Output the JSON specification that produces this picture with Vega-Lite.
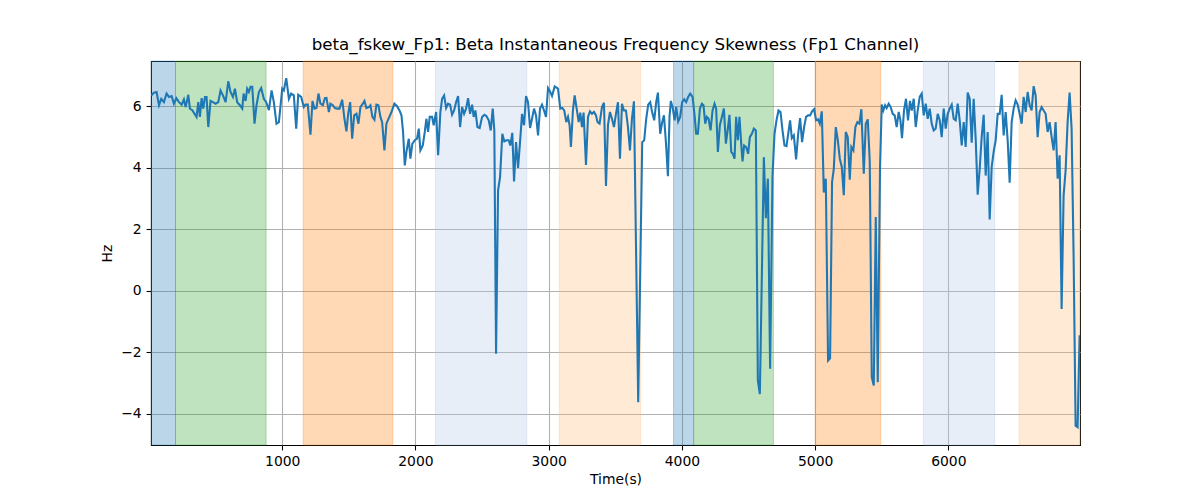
{
  "$schema": "https://vega.github.io/schema/vega-lite/v6.json",
  "width": 929,
  "height": 384,
  "autosize": "none",
  "padding": {"left": 151, "top": 61, "right": 120, "bottom": 55},
  "config": {
    "font": "DejaVu Sans",
    "view": {"stroke": "#000000", "strokeWidth": 1.07},
    "axis": {
      "domain": false,
      "grid": true,
      "gridColor": "#b0b0b0",
      "gridWidth": 1.07,
      "tickColor": "#000000",
      "tickSize": 4.9,
      "tickWidth": 1.07,
      "labelPadding": 4.9,
      "labelFont": "DejaVu Sans",
      "labelFontSize": 13.9,
      "labelColor": "#000000",
      "titleFont": "DejaVu Sans",
      "titleFontSize": 13.9,
      "titleFontWeight": "normal",
      "titleColor": "#000000"
    }
  },
  "title": {
    "text": "beta_fskew_Fp1: Beta Instantaneous Frequency Skewness (Fp1 Channel)",
    "font": "DejaVu Sans",
    "fontSize": 16.7,
    "fontWeight": "normal",
    "color": "#000000",
    "anchor": "middle",
    "offset": 7
  },
  "datasets": {
    "spans": [
      {"start": 17, "end": 199, "kind": "k1"},
      {"start": 199, "end": 879, "kind": "k2"},
      {"start": 1157, "end": 1830, "kind": "k3"},
      {"start": 2150, "end": 2836, "kind": "k4"},
      {"start": 3079, "end": 3690, "kind": "k5"},
      {"start": 3937, "end": 4088, "kind": "k1"},
      {"start": 4088, "end": 4687, "kind": "k2"},
      {"start": 5000, "end": 5492, "kind": "k3"},
      {"start": 5812, "end": 6348, "kind": "k4"},
      {"start": 6530, "end": 6988, "kind": "k5"}
    ],
    "series": [
      {"t": 17, "v": 6.36}, {"t": 37, "v": 6.45}, {"t": 57, "v": 6.47}, {"t": 75, "v": 6.04}, {"t": 92, "v": 6.25},
      {"t": 112, "v": 6.14}, {"t": 132, "v": 6.42}, {"t": 150, "v": 6.31}, {"t": 170, "v": 6.34}, {"t": 187, "v": 6.09},
      {"t": 205, "v": 6.27}, {"t": 225, "v": 6.14}, {"t": 245, "v": 6.06}, {"t": 262, "v": 6.23}, {"t": 275, "v": 5.98},
      {"t": 295, "v": 6.38}, {"t": 307, "v": 5.93}, {"t": 325, "v": 5.88}, {"t": 342, "v": 5.76}, {"t": 357, "v": 5.66},
      {"t": 370, "v": 6.14}, {"t": 382, "v": 5.66}, {"t": 395, "v": 6.27}, {"t": 407, "v": 5.93}, {"t": 420, "v": 6.31},
      {"t": 432, "v": 6.31}, {"t": 445, "v": 5.33}, {"t": 462, "v": 6.18}, {"t": 480, "v": 6.14}, {"t": 500, "v": 6.09},
      {"t": 520, "v": 6.14}, {"t": 537, "v": 6.52}, {"t": 555, "v": 6.36}, {"t": 575, "v": 6.14}, {"t": 595, "v": 6.82},
      {"t": 612, "v": 6.47}, {"t": 630, "v": 6.31}, {"t": 645, "v": 6.58}, {"t": 662, "v": 6.14}, {"t": 682, "v": 6.04},
      {"t": 700, "v": 5.93}, {"t": 710, "v": 6.42}, {"t": 725, "v": 6.18}, {"t": 737, "v": 6.58}, {"t": 750, "v": 6.47},
      {"t": 762, "v": 6.64}, {"t": 775, "v": 6.64}, {"t": 792, "v": 5.44}, {"t": 807, "v": 6.04}, {"t": 825, "v": 6.47},
      {"t": 842, "v": 6.6}, {"t": 862, "v": 6.25}, {"t": 880, "v": 6.14}, {"t": 900, "v": 5.88}, {"t": 920, "v": 6.52},
      {"t": 937, "v": 6.14}, {"t": 957, "v": 5.44}, {"t": 975, "v": 5.49}, {"t": 1000, "v": 6.58}, {"t": 1012, "v": 6.52},
      {"t": 1030, "v": 6.92}, {"t": 1050, "v": 6.25}, {"t": 1067, "v": 6.42}, {"t": 1087, "v": 6.36}, {"t": 1105, "v": 5.28},
      {"t": 1120, "v": 6.38}, {"t": 1142, "v": 6.31}, {"t": 1162, "v": 5.98}, {"t": 1175, "v": 6.06}, {"t": 1192, "v": 6.06},
      {"t": 1212, "v": 5.08}, {"t": 1227, "v": 6.18}, {"t": 1242, "v": 5.93}, {"t": 1257, "v": 5.95}, {"t": 1272, "v": 6.42},
      {"t": 1287, "v": 6.09}, {"t": 1305, "v": 6.04}, {"t": 1320, "v": 6.27}, {"t": 1332, "v": 6.28}, {"t": 1350, "v": 5.82},
      {"t": 1362, "v": 6.09}, {"t": 1380, "v": 6.04}, {"t": 1395, "v": 5.95}, {"t": 1412, "v": 5.93}, {"t": 1430, "v": 5.93},
      {"t": 1450, "v": 6.22}, {"t": 1467, "v": 5.6}, {"t": 1482, "v": 5.19}, {"t": 1495, "v": 5.76}, {"t": 1510, "v": 6.14},
      {"t": 1525, "v": 4.95}, {"t": 1540, "v": 5.71}, {"t": 1557, "v": 5.76}, {"t": 1572, "v": 5.44}, {"t": 1587, "v": 5.98},
      {"t": 1605, "v": 6.09}, {"t": 1617, "v": 6.18}, {"t": 1632, "v": 5.95}, {"t": 1650, "v": 5.98}, {"t": 1662, "v": 6.04},
      {"t": 1677, "v": 5.66}, {"t": 1692, "v": 5.57}, {"t": 1707, "v": 6.06}, {"t": 1722, "v": 6.04}, {"t": 1737, "v": 5.66},
      {"t": 1750, "v": 5.49}, {"t": 1767, "v": 4.57}, {"t": 1782, "v": 5.44}, {"t": 1800, "v": 5.62}, {"t": 1820, "v": 5.82},
      {"t": 1842, "v": 6.09}, {"t": 1862, "v": 6.01}, {"t": 1880, "v": 5.87}, {"t": 1895, "v": 5.71}, {"t": 1907, "v": 5.17},
      {"t": 1920, "v": 4.08}, {"t": 1932, "v": 4.52}, {"t": 1950, "v": 4.95}, {"t": 1962, "v": 4.3}, {"t": 1977, "v": 4.79},
      {"t": 1995, "v": 4.9}, {"t": 2012, "v": 4.95}, {"t": 2025, "v": 5.28}, {"t": 2037, "v": 4.57}, {"t": 2055, "v": 4.73},
      {"t": 2070, "v": 5.17}, {"t": 2082, "v": 5.6}, {"t": 2095, "v": 5.17}, {"t": 2107, "v": 5.66}, {"t": 2125, "v": 5.66},
      {"t": 2137, "v": 5.39}, {"t": 2155, "v": 5.82}, {"t": 2170, "v": 4.41}, {"t": 2187, "v": 5.82}, {"t": 2200, "v": 6.25},
      {"t": 2215, "v": 6.36}, {"t": 2230, "v": 5.95}, {"t": 2245, "v": 6.09}, {"t": 2260, "v": 6.06}, {"t": 2275, "v": 5.73},
      {"t": 2290, "v": 5.87}, {"t": 2305, "v": 6.14}, {"t": 2320, "v": 6.34}, {"t": 2335, "v": 5.33}, {"t": 2350, "v": 5.98},
      {"t": 2365, "v": 5.76}, {"t": 2380, "v": 5.93}, {"t": 2395, "v": 6.27}, {"t": 2410, "v": 5.76}, {"t": 2425, "v": 6.06},
      {"t": 2437, "v": 5.66}, {"t": 2450, "v": 5.87}, {"t": 2465, "v": 5.33}, {"t": 2482, "v": 5.3}, {"t": 2500, "v": 5.66},
      {"t": 2517, "v": 5.73}, {"t": 2532, "v": 5.69}, {"t": 2550, "v": 5.55}, {"t": 2565, "v": 5.22}, {"t": 2580, "v": 5.93},
      {"t": 2592, "v": 5.22}, {"t": 2605, "v": -2.05}, {"t": 2620, "v": 3.26}, {"t": 2635, "v": 3.7}, {"t": 2652, "v": 5.11},
      {"t": 2667, "v": 4.86}, {"t": 2682, "v": 4.9}, {"t": 2700, "v": 4.9}, {"t": 2712, "v": 4.73}, {"t": 2727, "v": 5.14},
      {"t": 2740, "v": 3.56}, {"t": 2755, "v": 4.84}, {"t": 2770, "v": 4.0}, {"t": 2785, "v": 4.84}, {"t": 2800, "v": 5.76},
      {"t": 2815, "v": 5.39}, {"t": 2830, "v": 6.34}, {"t": 2845, "v": 6.14}, {"t": 2860, "v": 5.3}, {"t": 2875, "v": 5.6},
      {"t": 2890, "v": 5.93}, {"t": 2905, "v": 5.71}, {"t": 2920, "v": 5.06}, {"t": 2935, "v": 5.93}, {"t": 2950, "v": 6.06},
      {"t": 2965, "v": 5.87}, {"t": 2980, "v": 5.66}, {"t": 2995, "v": 6.6}, {"t": 3010, "v": 6.49}, {"t": 3025, "v": 6.34},
      {"t": 3045, "v": 6.65}, {"t": 3070, "v": 6.58}, {"t": 3087, "v": 5.93}, {"t": 3102, "v": 5.95}, {"t": 3117, "v": 5.87},
      {"t": 3132, "v": 5.49}, {"t": 3145, "v": 5.66}, {"t": 3157, "v": 5.39}, {"t": 3167, "v": 4.68}, {"t": 3182, "v": 5.87},
      {"t": 3195, "v": 6.36}, {"t": 3210, "v": 5.93}, {"t": 3225, "v": 5.49}, {"t": 3237, "v": 5.8}, {"t": 3250, "v": 5.33},
      {"t": 3262, "v": 5.8}, {"t": 3280, "v": 4.1}, {"t": 3295, "v": 5.66}, {"t": 3310, "v": 5.84}, {"t": 3325, "v": 5.76},
      {"t": 3340, "v": 5.82}, {"t": 3355, "v": 5.71}, {"t": 3367, "v": 5.49}, {"t": 3382, "v": 5.44}, {"t": 3400, "v": 5.98},
      {"t": 3415, "v": 6.12}, {"t": 3430, "v": 3.41}, {"t": 3445, "v": 5.39}, {"t": 3460, "v": 5.82}, {"t": 3475, "v": 5.6},
      {"t": 3490, "v": 5.33}, {"t": 3505, "v": 5.76}, {"t": 3520, "v": 6.14}, {"t": 3535, "v": 4.3}, {"t": 3550, "v": 6.09},
      {"t": 3565, "v": 5.87}, {"t": 3580, "v": 5.87}, {"t": 3595, "v": 5.33}, {"t": 3610, "v": 4.57}, {"t": 3625, "v": 5.6},
      {"t": 3640, "v": 6.17}, {"t": 3672, "v": -3.63}, {"t": 3702, "v": 4.84}, {"t": 3717, "v": 4.9}, {"t": 3732, "v": 5.6},
      {"t": 3747, "v": 6.06}, {"t": 3762, "v": 6.14}, {"t": 3777, "v": 5.8}, {"t": 3792, "v": 5.55}, {"t": 3807, "v": 6.14},
      {"t": 3820, "v": 6.45}, {"t": 3837, "v": 5.11}, {"t": 3852, "v": 5.49}, {"t": 3865, "v": 5.71}, {"t": 3880, "v": 4.84},
      {"t": 3895, "v": 3.73}, {"t": 3907, "v": 5.66}, {"t": 3917, "v": 6.18}, {"t": 3932, "v": 5.93}, {"t": 3945, "v": 5.55},
      {"t": 3957, "v": 5.98}, {"t": 3972, "v": 5.51}, {"t": 3987, "v": 5.66}, {"t": 4002, "v": 6.14}, {"t": 4017, "v": 6.23},
      {"t": 4032, "v": 6.14}, {"t": 4047, "v": 6.31}, {"t": 4062, "v": 6.42}, {"t": 4080, "v": 6.31}, {"t": 4095, "v": 5.71},
      {"t": 4107, "v": 5.11}, {"t": 4120, "v": 5.11}, {"t": 4135, "v": 5.93}, {"t": 4150, "v": 6.09}, {"t": 4162, "v": 6.04},
      {"t": 4175, "v": 5.44}, {"t": 4187, "v": 5.66}, {"t": 4200, "v": 5.6}, {"t": 4215, "v": 5.22}, {"t": 4230, "v": 5.87},
      {"t": 4245, "v": 6.09}, {"t": 4257, "v": 5.93}, {"t": 4270, "v": 4.52}, {"t": 4285, "v": 5.39}, {"t": 4300, "v": 5.66},
      {"t": 4315, "v": 5.93}, {"t": 4330, "v": 4.79}, {"t": 4345, "v": 5.28}, {"t": 4357, "v": 5.73}, {"t": 4370, "v": 4.52},
      {"t": 4382, "v": 4.46}, {"t": 4395, "v": 4.3}, {"t": 4407, "v": 5.66}, {"t": 4420, "v": 4.9}, {"t": 4432, "v": 5.66},
      {"t": 4445, "v": 4.79}, {"t": 4455, "v": 4.21}, {"t": 4467, "v": 4.73}, {"t": 4482, "v": 4.68}, {"t": 4497, "v": 4.46},
      {"t": 4510, "v": 5.0}, {"t": 4525, "v": 5.11}, {"t": 4540, "v": 5.28}, {"t": 4555, "v": 5.22}, {"t": 4570, "v": -2.92},
      {"t": 4585, "v": -3.36}, {"t": 4615, "v": 4.35}, {"t": 4630, "v": 2.36}, {"t": 4645, "v": 3.65}, {"t": 4662, "v": -2.54},
      {"t": 4680, "v": 3.75}, {"t": 4695, "v": 5.11}, {"t": 4710, "v": 5.55}, {"t": 4725, "v": 5.87}, {"t": 4740, "v": 5.82},
      {"t": 4755, "v": 5.22}, {"t": 4770, "v": 4.73}, {"t": 4785, "v": 4.71}, {"t": 4800, "v": 5.17}, {"t": 4812, "v": 5.55},
      {"t": 4825, "v": 4.97}, {"t": 4840, "v": 5.06}, {"t": 4857, "v": 4.28}, {"t": 4872, "v": 5.08}, {"t": 4887, "v": 5.62},
      {"t": 4902, "v": 4.84}, {"t": 4917, "v": 5.33}, {"t": 4932, "v": 5.66}, {"t": 4947, "v": 5.71}, {"t": 4962, "v": 5.71},
      {"t": 4977, "v": 5.84}, {"t": 4992, "v": 5.91}, {"t": 5007, "v": 5.55}, {"t": 5022, "v": 5.58}, {"t": 5035, "v": 5.44},
      {"t": 5050, "v": 5.84}, {"t": 5065, "v": 3.2}, {"t": 5080, "v": 3.65}, {"t": 5097, "v": -2.27}, {"t": 5112, "v": -2.2},
      {"t": 5127, "v": 3.54}, {"t": 5140, "v": 3.97}, {"t": 5155, "v": 5.33}, {"t": 5170, "v": 4.9}, {"t": 5185, "v": 4.3},
      {"t": 5200, "v": 4.03}, {"t": 5215, "v": 3.11}, {"t": 5230, "v": 5.17}, {"t": 5245, "v": 5.0}, {"t": 5260, "v": 3.62},
      {"t": 5272, "v": 4.68}, {"t": 5287, "v": 4.57}, {"t": 5302, "v": 5.33}, {"t": 5317, "v": 5.49}, {"t": 5332, "v": 5.44},
      {"t": 5347, "v": 5.91}, {"t": 5365, "v": 3.81}, {"t": 5380, "v": 5.44}, {"t": 5395, "v": 5.58}, {"t": 5410, "v": 4.19},
      {"t": 5425, "v": -2.81}, {"t": 5440, "v": -3.08}, {"t": 5455, "v": 2.4}, {"t": 5470, "v": -2.98}, {"t": 5487, "v": 4.03},
      {"t": 5500, "v": 6.06}, {"t": 5512, "v": 5.87}, {"t": 5525, "v": 6.04}, {"t": 5537, "v": 5.95}, {"t": 5552, "v": 6.09},
      {"t": 5567, "v": 5.98}, {"t": 5582, "v": 5.76}, {"t": 5597, "v": 5.71}, {"t": 5612, "v": 5.33}, {"t": 5627, "v": 5.82},
      {"t": 5640, "v": 5.55}, {"t": 5652, "v": 4.97}, {"t": 5667, "v": 5.87}, {"t": 5682, "v": 6.25}, {"t": 5697, "v": 5.55},
      {"t": 5712, "v": 6.18}, {"t": 5725, "v": 5.87}, {"t": 5740, "v": 6.25}, {"t": 5755, "v": 5.33}, {"t": 5770, "v": 5.87},
      {"t": 5785, "v": 6.31}, {"t": 5800, "v": 6.42}, {"t": 5815, "v": 5.71}, {"t": 5830, "v": 6.09}, {"t": 5845, "v": 5.6},
      {"t": 5860, "v": 5.93}, {"t": 5875, "v": 5.44}, {"t": 5890, "v": 5.22}, {"t": 5905, "v": 5.28}, {"t": 5920, "v": 5.76},
      {"t": 5935, "v": 5.55}, {"t": 5950, "v": 5.0}, {"t": 5965, "v": 5.93}, {"t": 5980, "v": 5.28}, {"t": 5995, "v": 5.76},
      {"t": 6010, "v": 5.93}, {"t": 6025, "v": 6.06}, {"t": 6040, "v": 5.6}, {"t": 6055, "v": 5.55}, {"t": 6070, "v": 6.09},
      {"t": 6085, "v": 5.55}, {"t": 6100, "v": 4.73}, {"t": 6115, "v": 5.49}, {"t": 6130, "v": 4.68}, {"t": 6145, "v": 6.45},
      {"t": 6160, "v": 6.25}, {"t": 6175, "v": 4.82}, {"t": 6190, "v": 6.25}, {"t": 6205, "v": 4.95}, {"t": 6220, "v": 3.13},
      {"t": 6235, "v": 3.97}, {"t": 6250, "v": 5.0}, {"t": 6265, "v": 5.73}, {"t": 6280, "v": 3.75}, {"t": 6295, "v": 5.17},
      {"t": 6310, "v": 2.32}, {"t": 6325, "v": 4.03}, {"t": 6340, "v": 4.52}, {"t": 6355, "v": 4.9}, {"t": 6370, "v": 5.76},
      {"t": 6385, "v": 5.76}, {"t": 6400, "v": 6.38}, {"t": 6415, "v": 5.06}, {"t": 6430, "v": 5.82}, {"t": 6445, "v": 4.9},
      {"t": 6460, "v": 3.52}, {"t": 6475, "v": 5.49}, {"t": 6490, "v": 5.93}, {"t": 6505, "v": 6.2}, {"t": 6520, "v": 6.06},
      {"t": 6535, "v": 5.76}, {"t": 6550, "v": 5.44}, {"t": 6565, "v": 6.31}, {"t": 6580, "v": 5.82}, {"t": 6595, "v": 6.47},
      {"t": 6610, "v": 6.04}, {"t": 6625, "v": 5.87}, {"t": 6640, "v": 6.66}, {"t": 6655, "v": 6.36}, {"t": 6670, "v": 5.0},
      {"t": 6685, "v": 5.82}, {"t": 6700, "v": 5.98}, {"t": 6715, "v": 5.87}, {"t": 6730, "v": 5.76}, {"t": 6745, "v": 5.17},
      {"t": 6760, "v": 5.49}, {"t": 6775, "v": 5.0}, {"t": 6790, "v": 4.57}, {"t": 6805, "v": 5.49}, {"t": 6820, "v": 3.65},
      {"t": 6835, "v": 4.41}, {"t": 6850, "v": -0.59}, {"t": 6865, "v": 3.1}, {"t": 6880, "v": 3.92}, {"t": 6895, "v": 5.49},
      {"t": 6910, "v": 6.45}, {"t": 6925, "v": 5.27}, {"t": 6940, "v": 1.15}, {"t": 6955, "v": -4.39}, {"t": 6970, "v": -4.44},
      {"t": 6985, "v": -1.45}
    ]
  },
  "layer": [
    {
      "data": {"name": "spans"},
      "mark": {"type": "rect", "fillOpacity": 0.3, "strokeOpacity": 0.3, "strokeWidth": 1},
      "encoding": {
        "x": {"field": "start", "type": "quantitative", "scale": {"domain": [15, 6988], "nice": false, "zero": false}},
        "x2": {"field": "end"},
        "fill": {"field": "kind", "type": "nominal", "scale": {"domain": ["k1", "k2", "k3", "k4", "k5"], "range": ["#1f77b4", "#2ca02c", "#ff7f0e", "#aec7e8", "#ffbb78"]}, "legend": null},
        "stroke": {"field": "kind", "type": "nominal", "scale": {"domain": ["k1", "k2", "k3", "k4", "k5"], "range": ["#1f77b4", "#2ca02c", "#ff7f0e", "#aec7e8", "#ffbb78"]}, "legend": null}
      }
    },
    {
      "data": {"name": "series"},
      "mark": {"type": "line", "color": "#1f77b4", "strokeWidth": 2.08, "clip": true},
      "encoding": {
        "x": {
          "field": "t", "type": "quantitative", "title": "Time(s)",
          "scale": {"domain": [15, 6988], "nice": false, "zero": false},
          "axis": {"values": [1000, 2000, 3000, 4000, 5000, 6000], "format": "d", "titlePadding": 4}
        },
        "y": {
          "field": "v", "type": "quantitative", "title": "Hz",
          "scale": {"domain": [-5.02, 7.48], "nice": false, "zero": false},
          "axis": {"values": [-4, -2, 0, 2, 4, 6], "format": "d", "titlePadding": 6}
        }
      }
    }
  ]
}
